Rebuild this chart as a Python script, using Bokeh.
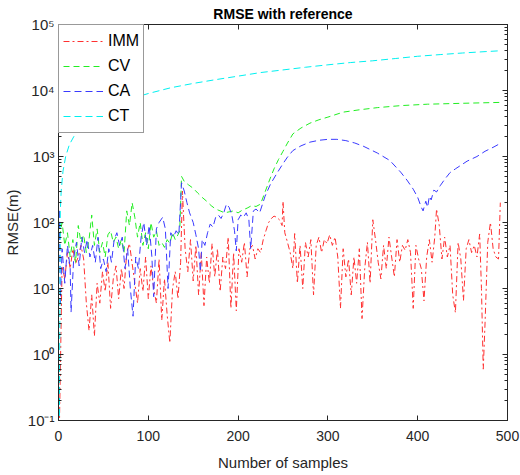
from bokeh.plotting import figure
from bokeh.models import FixedTicker, LogAxis, LinearAxis, Legend, LegendItem
from bokeh.embed import file_html
from bokeh.resources import INLINE

# ---------------- data ----------------
imm_x = [1, 4, 7, 10, 13, 16, 19, 22, 25, 28, 31, 34, 37, 40, 43, 46, 49, 52, 55, 58,
         61, 64, 67, 70, 73, 76, 79, 82, 85, 88, 91, 94, 97, 100, 103, 106, 109, 112, 115, 118,
         121, 124, 127, 130, 133, 136, 138, 141, 144, 147, 150, 153, 156, 159, 162, 165, 168, 171, 174, 177,
         180, 183, 186, 189, 192, 195, 198, 201, 204, 207, 210, 213, 216, 219, 222, 225, 228, 231, 234, 237,
         240, 243, 246, 249, 250, 252, 255, 258, 261, 263, 266, 269, 272, 275, 278, 281, 284, 287, 290, 293,
         296, 299, 302, 305, 308, 311, 314, 317, 320, 323, 326, 329, 332, 335, 338, 341, 344, 347, 350, 353,
         356, 359, 362, 365, 368, 371, 374, 377, 380, 383, 386, 389, 392, 395, 398, 401, 404, 407, 410, 413,
         416, 419, 421, 424, 427, 430, 433, 436, 439, 442, 445, 448, 451, 454, 457, 460, 463, 466, 469, 471,
         473, 475, 478, 481, 484, 487, 490, 492]
imm_y = [0.08, 22, 14, 35, 20, 40, 24, 30, 45, 28, 6, 2.3, 8, 1.9, 12, 6, 18, 9, 25, 5,
         14, 22, 7, 20, 10, 35, 48, 24, 12, 6, 20, 9, 30, 7, 22, 10, 6, 28, 3.3, 14,
         4, 1.5, 10, 18, 7, 25, 300, 40, 18, 55, 13, 45, 8, 35, 5.5, 30, 12, 48, 15, 40,
         9, 30, 20, 60, 5, 35, 4.6, 40, 25, 50, 15, 40, 45, 28, 40, 35, 55, 75, 100, 115,
         125, 120, 110, 90, 210, 70, 50, 35, 20, 68, 12, 45, 10, 50, 30, 55, 8, 45, 60, 35,
         55, 48, 65, 45, 60, 30, 5, 40, 15, 28, 8, 30, 12, 40, 3.5, 20, 50, 12, 110, 55,
         25, 14, 45, 20, 60, 30, 15, 55, 25, 45, 38, 55, 35, 5, 45, 28, 20, 6.5, 30, 55,
         25, 60, 160, 90, 28, 60, 30, 45, 8, 4.3, 50, 28, 6.6, 40, 55, 35, 45, 30, 67, 10,
         0.6, 3, 50, 100, 40, 30, 28, 200]

cv_x = [1, 4, 7, 10, 13, 16, 19, 22, 25, 28, 31, 34, 37, 40, 43, 46, 49, 52, 55, 58,
        61, 64, 67, 70, 73, 76, 79, 82, 85, 88, 91, 94, 97, 100, 103, 106, 109, 112, 115, 118,
        121, 124, 127, 130, 133, 135, 137, 140, 145, 150, 155, 160, 165, 170, 175, 180,
        185, 190, 195, 200, 205, 210, 215, 220, 225, 230, 235, 240, 245, 250, 255, 261,
        270, 280, 290, 300, 317, 335, 355, 381, 411, 450, 492]
cv_y = [60, 100, 45, 70, 30, 55, 25, 90, 50, 65, 35, 55, 130, 45, 80, 35, 50, 30, 65, 75,
        50, 60, 40, 55, 35, 150, 90, 200, 120, 60, 100, 45, 70, 40, 100, 60, 75, 45, 50, 42,
        55, 48, 70, 55, 65, 75, 500, 420, 370, 330, 280, 240, 210, 180, 160, 150,
        140, 145, 150, 140, 155, 165, 180, 175, 190, 290, 440, 650, 900, 1200, 1600, 2200,
        2700, 3200, 3600, 3950, 4700, 5100, 5500, 5900, 6200, 6400, 6600]

ca_x = [1, 2, 4, 7, 10, 13, 14, 17, 20, 23, 26, 29, 32, 35, 38, 41, 44, 47, 50, 53,
        56, 59, 62, 65, 68, 71, 74, 77, 80, 83, 86, 89, 92, 95, 98, 101, 104, 106, 109, 112,
        116, 119, 122, 125, 128, 131, 134, 137, 140, 143, 146, 150, 153, 156, 158, 160, 163, 166, 169, 172,
        175, 178, 181, 184, 187, 190, 193, 196, 198, 200, 203, 206, 209, 212, 214, 217, 220, 224, 230, 236,
        243, 250, 255, 261, 270, 280, 290, 300, 310, 320, 330, 340, 355, 369, 381, 388, 395, 400, 404, 406,
        409, 411, 413, 415, 418, 421, 425, 430, 436, 442, 447, 455, 466, 475, 485, 492]
ca_y = [150, 6, 40, 12, 45, 20, 4.4, 30, 50, 22, 60, 35, 55, 30, 45, 25, 60, 20, 28, 18,
        40, 25, 55, 70, 45, 60, 20, 40, 10, 3.8, 30, 20, 60, 100, 45, 90, 30, 7.5, 80, 100,
        120, 80, 10, 70, 60, 75, 65, 400, 300, 200, 140, 100, 65, 40, 18, 55, 45, 70, 95, 85,
        120, 130, 115, 140, 190, 170, 130, 75, 37, 110, 130, 120, 140, 110, 40, 150, 160, 140, 250, 380,
        550, 780, 980, 1230, 1450, 1650, 1760, 1820, 1820, 1740, 1600, 1420, 1130, 870, 580, 440, 320, 240, 170, 150,
        210, 170, 250, 220, 310, 290, 360, 450, 570, 650, 720, 850, 1000, 1200, 1400, 1580]

ct_x = [1, 2, 3, 5, 8, 12, 17, 23, 30, 40, 50, 60, 70, 80, 90, 100, 125, 150, 175, 200,
        225, 250, 275, 300, 325, 350, 375, 400, 425, 450, 475, 492]
ct_y = [0.08, 150, 300, 600, 1000, 1500, 2000, 2600, 3300, 4200, 5000, 5900, 6700, 7500, 8200, 9000,
        11000, 12800, 14600, 16500, 18700, 20500, 22500, 24500, 26500, 28200, 30500, 33000, 35000,
        37000, 38800, 40000]

x_ticks = [0, 100, 200, 300, 400, 500]
y_ticks = [0.1, 1, 10, 100, 1000, 10000, 100000]
y_tick_labels = ["10⁻¹", "10⁰", "10¹", "10²", "10³", "10⁴", "10⁵"]

# ---------------- figure ----------------
FONT = "Liberation Sans"
AX = "#262626"

p = figure(width=520, height=475, x_range=(0, 500), y_range=(0.1, 100000),
           y_axis_type="log", output_backend="svg", toolbar_location=None,
           min_border_left=57, min_border_right=13, min_border_top=4, min_border_bottom=55,
           background_fill_color="white", border_fill_color="white")
p.xgrid.visible = False
p.ygrid.visible = False
p.outline_line_color = AX

p.title.text = "RMSE with reference"
p.title.align = "center"
p.title.text_font = FONT
p.title.text_font_size = "14px"
p.title.text_font_style = "bold"
p.title.text_color = "black"
p.title.standoff = 6
p.title.offset = 0

minor = []
for e in range(-1, 5):
    for k in range(2, 10):
        minor.append(k * 10.0 ** e)

yt = FixedTicker(ticks=y_ticks, minor_ticks=minor)
xt = FixedTicker(ticks=x_ticks, minor_ticks=[])
overrides = {}
for v, s in zip(y_ticks, y_tick_labels):
    overrides[v if v < 1 else int(v)] = s


def style_axis(ax):
    ax.axis_line_color = AX
    ax.major_tick_line_color = AX
    ax.minor_tick_line_color = AX
    ax.major_tick_in = 5
    ax.major_tick_out = 0
    ax.minor_tick_in = 3
    ax.minor_tick_out = 0
    ax.major_label_text_font = FONT
    ax.major_label_text_color = AX
    ax.axis_label_text_font = FONT
    ax.axis_label_text_font_style = "normal"
    ax.axis_label_text_color = AX


xa = p.xaxis[0]
xa.ticker = xt
style_axis(xa)
xa.major_label_text_font_size = "14px"
xa.axis_label = "Number of samples"
xa.axis_label_text_font_size = "15px"
xa.major_label_standoff = 10
xa.axis_label_standoff = 10

ya = p.yaxis[0]
ya.ticker = yt
style_axis(ya)
ya.major_label_overrides = overrides
ya.major_label_text_font_size = "15px"
ya.axis_label = "RMSE(m)"
ya.axis_label_text_font_size = "15px"
ya.major_label_standoff = 4
ya.axis_label_standoff = 4

ra = LogAxis(ticker=yt)
style_axis(ra)
ra.major_label_text_alpha = 0
ra.major_label_text_font_size = "1px"
ra.major_label_standoff = 0
p.add_layout(ra, "right")
ta = LinearAxis(ticker=xt)
style_axis(ta)
ta.major_label_text_alpha = 0
ta.major_label_text_font_size = "1px"
ta.major_label_standoff = 0
p.add_layout(ta, "above")

r_imm = p.line(imm_x, imm_y, line_color="#ff3030", line_width=1, line_dash="6 3 2 3")
r_cv = p.line(cv_x, cv_y, line_color="#22ee22", line_width=1, line_dash="6 4")
r_ca = p.line(ca_x, ca_y, line_color="#3a3aff", line_width=1, line_dash="7 4")
r_ct = p.line(ct_x, ct_y, line_color="#00f0f0", line_width=1, line_dash="7 4")

legend = Legend(items=[LegendItem(label="IMM", renderers=[r_imm]),
                       LegendItem(label="CV", renderers=[r_cv]),
                       LegendItem(label="CA", renderers=[r_ca]),
                       LegendItem(label="CT", renderers=[r_ct])],
                location="top_left", margin=0, padding=4, spacing=1,
                glyph_width=40, glyph_height=24, label_height=24, label_standoff=5,
                label_text_font=FONT, label_text_font_size="16px", label_text_color="black",
                border_line_color="#333333", border_line_width=1,
                background_fill_color="white", background_fill_alpha=1)
p.add_layout(legend, "center")

open("out.html", "w").write(file_html(p, INLINE))
